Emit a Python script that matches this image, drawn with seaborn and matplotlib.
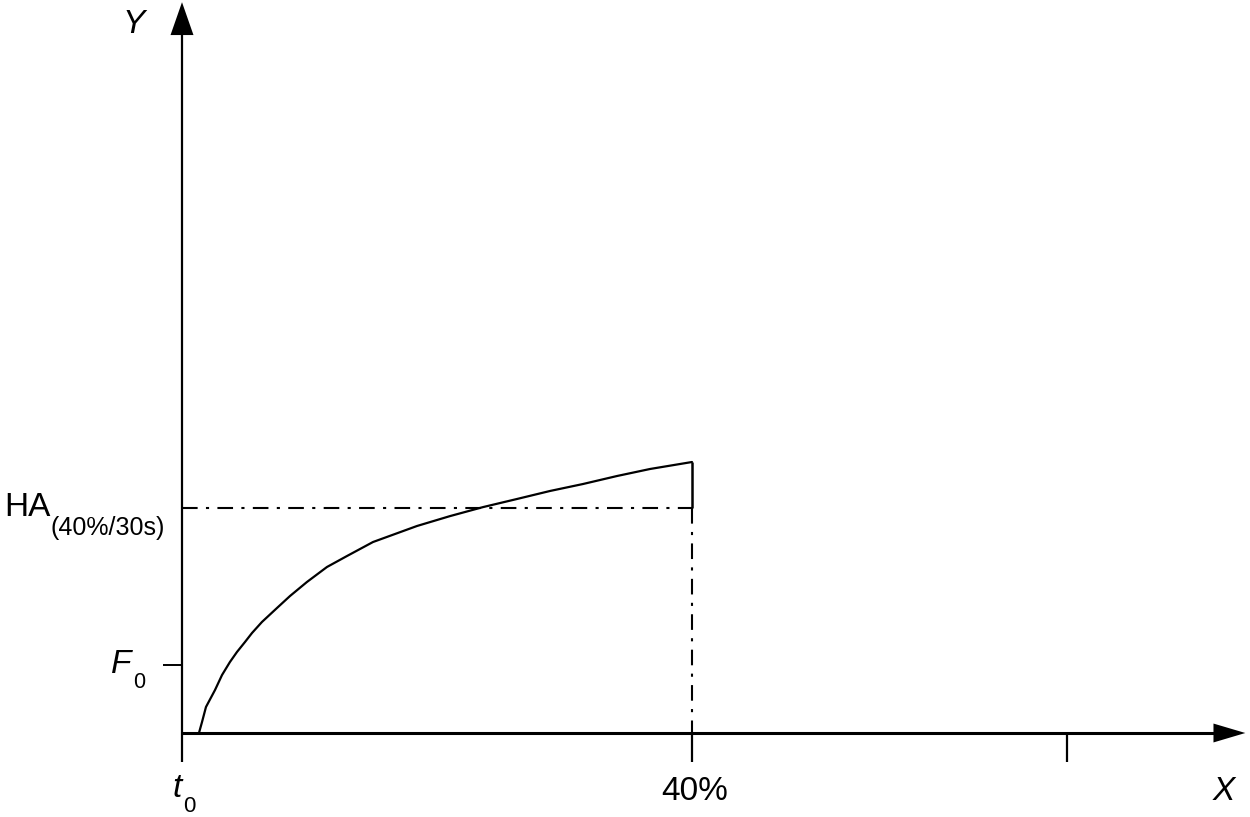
import numpy as np
import pandas as pd
import matplotlib
matplotlib.use("Agg")
import matplotlib.pyplot as plt
import seaborn as sns

# ---- data (x in %, y in arbitrary units) ----
curve_x = [1.33, 1.57, 1.88, 2.59, 3.14, 3.76, 4.31, 4.94, 5.49, 6.27, 7.45, 8.47,
           9.80, 11.37, 12.94, 14.98, 18.43, 21.02, 23.61, 26.27, 28.86, 31.45, 34.12, 36.71, 40.0]
curve_y = [0.0, 2.44, 5.78, 9.56, 12.89, 15.78, 18.0, 20.22, 22.22, 24.67, 27.78, 30.44,
           33.56, 36.89, 39.33, 42.44, 46.0, 48.2, 50.2, 52.0, 53.78, 55.33, 57.11, 58.67, 60.22]
x_mark = 40.0          # 40 %
x_tick2 = 69.4         # unlabeled tick on X axis
ha_level = 50.0        # HA(40%/30s)
f0_level = 15.1        # F0
x_end = 83.4           # X arrow tip
y_end = 162.4          # Y arrow tip

sns.set_theme(style="white")
plt.rcParams["font.family"] = ["Liberation Sans", "DejaVu Sans"]

fig = plt.figure(figsize=(12.5, 8.17), dpi=100)
ax = fig.add_axes([0, 0, 1, 1])
ax.set_xlim(-182 / 12.75, (1250 - 182) / 12.75)
ax.set_ylim(-84 / 4.5, 733 / 4.5)
ax.axis("off")

def lx(p):  # layout helper: pixel column -> axis x
    return (p - 182) / 12.75

def ly(p):  # layout helper: pixel row -> axis y
    return (733 - p) / 4.5

k = "black"
# axes
ax.plot([0, x_end - 2.0], [0, 0], color=k, lw=2.2, solid_capstyle="butt")
ax.plot([0, 0], [-6.4, y_end - 6.0], color=k, lw=1.6, solid_capstyle="butt")
# arrowheads
ax.fill([x_end - 2.5, x_end, x_end - 2.5], [2.1, 0, -2.1], color=k, lw=0)
ax.fill([-0.9, 0, 0.9], [y_end - 7.3, y_end, y_end - 7.3], color=k, lw=0)

# curve
df = pd.DataFrame({"x": curve_x, "y": curve_y})
sns.lineplot(data=df, x="x", y="y", sort=False, color=k, lw=1.6, ax=ax)

# reference lines
dd = (0, (7.5, 4, 1.5, 4))
ax.plot([0, x_mark], [ha_level, ha_level], color=k, lw=1.5, linestyle=dd)
ax.plot([x_mark, x_mark], [ha_level, 0], color=k, lw=1.5, linestyle=dd)
ax.plot([x_mark, x_mark], [curve_y[-1], ha_level], color=k, lw=1.8, solid_capstyle="butt")
# ticks
ax.plot([x_mark, x_mark], [0, -6.4], color=k, lw=1.6, solid_capstyle="butt")
ax.plot([x_tick2, x_tick2], [0, -6.4], color=k, lw=1.6, solid_capstyle="butt")
ax.plot([-1.5, 0], [f0_level, f0_level], color=k, lw=1.4, solid_capstyle="butt")

fs = 24
tkw = dict(color=k, va="baseline", ha="left")
ax.text(lx(123), ly(33), "Y", fontsize=fs, style="italic", **tkw)
ax.text(lx(1213), ly(800), "X", fontsize=fs, style="italic", **tkw)
ax.text(lx(695), ly(800), "40%", fontsize=fs, color=k, va="baseline", ha="center")
ax.text(lx(172), ly(797), "t", fontsize=fs, style="italic", **tkw)
ax.text(lx(183), ly(812), "0", fontsize=16, **tkw)
ax.text(lx(111), ly(673), "F", fontsize=fs, style="italic", **tkw)
ax.text(lx(133), ly(688), "0", fontsize=15.5, **tkw)
ax.text(lx(4), ly(516), "HA", fontsize=fs, **tkw)
ax.text(lx(50), ly(535), "(40%/30s)", fontsize=18, **tkw)

fig.savefig("out.png", dpi=100)
